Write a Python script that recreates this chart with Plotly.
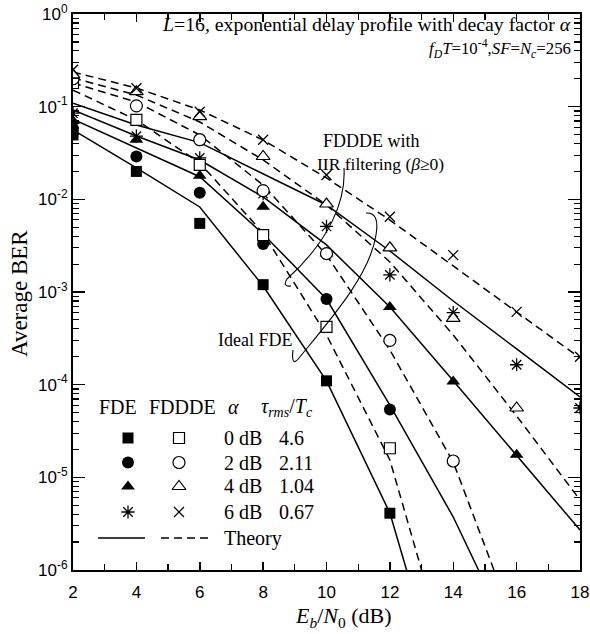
import plotly.graph_objects as go

# ---------------- data ----------------
ebn0 = [2, 4, 6, 8, 10, 12, 14, 16, 18]

# simulation, ideal FDE (filled markers)
sim_fde_0 = [0.0495, 0.020, 0.0055, 0.0012, 1.1e-4, 4.1e-6]
sim_fde_2 = [0.058, 0.029, 0.0118, 0.0033, 8.4e-4, 5.4e-5]
sim_fde_4 = [0.070, 0.044, 0.018, 0.0083, 0.0026, 6.9e-4, 1.08e-4, 1.75e-5]
sim_fde_6 = [0.085, 0.048, 0.028, 0.0115, 0.0051, 0.00153, 6.0e-4, 1.64e-4, 5.6e-5]

# simulation, FDDDE with IIR filtering (open markers)
sim_fddde_0 = [0.18, 0.072, 0.0235, 0.0041, 4.2e-4, 2.06e-5]
sim_fddde_2 = [0.20, 0.102, 0.044, 0.0124, 0.0026, 3.0e-4, 1.5e-5]
sim_fddde_4 = [0.22, 0.145, 0.078, 0.029, 0.0089, 0.0030, 5.2e-4, 5.6e-5]
sim_fddde_6 = [0.25, 0.158, 0.088, 0.044, 0.0183, 0.0065, 0.0025, 6.1e-4, 2.0e-4]

# theory, ideal FDE (solid)
th_fde_0 = [0.0560, 0.0218, 0.00827, 0.00116, 1.10e-4, 4.12e-6, 1.9e-8]
th_fde_2 = [0.0731, 0.0358, 0.01755, 0.00423, 8.4e-4, 6.0e-5, 3.73e-6, 1.37e-7]
th_fde_4 = [0.0921, 0.0483, 0.02658, 0.0106, 0.00322, 6.89e-4, 1.10e-4, 1.74e-5, 2.70e-6]
th_fde_6 = [0.1087, 0.0634, 0.0409, 0.01877, 0.00869, 0.00277, 8.0e-4, 2.43e-4, 7.36e-5]

# theory, FDDDE (dashed)
th_fddde_0 = [0.151, 0.0718, 0.0247, 0.00433, 3.44e-4, 1.54e-5, 6.5e-8]
th_fddde_2 = [0.180, 0.1123, 0.0495, 0.01428, 0.00251, 2.37e-4, 1.46e-5, 2.25e-7]
th_fddde_4 = [0.204, 0.1336, 0.0684, 0.0266, 0.00869, 0.00211, 3.44e-4, 4.59e-5, 5.70e-6]
th_fddde_6 = [0.2366, 0.159, 0.0921, 0.0437, 0.0170, 0.00598, 0.00191, 6.09e-4, 1.94e-4]

alpha_labels = ["0 dB", "2 dB", "4 dB", "6 dB"]
trms_labels = ["4.6", "2.11", "1.04", "0.67"]

x_ticks = [2, 4, 6, 8, 10, 12, 14, 16, 18]
y_ticks = [1e-6, 1e-5, 1e-4, 1e-3, 1e-2, 1e-1, 1]
y_ticktext = ["10<sup>-6</sup>", "10<sup>-5</sup>", "10<sup>-4</sup>", "10<sup>-3</sup>",
              "10<sup>-2</sup>", "10<sup>-1</sup>", "10<sup>0</sup>"]

# ---------------- geometry (screen pixels; body margin removed in post_script) ----------------
W, H = 590, 634
X0, X1, Y0, Y1 = 73, 580, 14, 570          # plot area
L, T, R, B = X0, Y0, W - X1, H - Y1
PW, PH = X1 - X0, Y1 - Y0

def fx(px):
    return (px - X0) / PW

def fy(py):
    return (Y1 - py) / PH

SERIF = "Liberation Serif, Times New Roman, serif"
SANS = "Liberation Sans, Arial, sans-serif"

fig = go.Figure()

solid = dict(color="black", width=1.5)
dashed = dict(color="black", width=1.5, dash="8px,5px")

for vals in [th_fde_0, th_fde_2, th_fde_4, th_fde_6]:
    fig.add_trace(go.Scatter(x=ebn0[:len(vals)], y=vals, mode="lines", line=solid,
                             showlegend=False, hoverinfo="skip"))
for vals in [th_fddde_0, th_fddde_2, th_fddde_4, th_fddde_6]:
    fig.add_trace(go.Scatter(x=ebn0[:len(vals)], y=vals, mode="lines", line=dashed,
                             showlegend=False, hoverinfo="skip"))

filled_styles = [
    dict(symbol="square", size=11, color="black"),
    dict(symbol="circle", size=12, color="black"),
    dict(symbol="triangle-up", size=12, color="black"),
    dict(symbol="asterisk-open", size=11, color="black", line=dict(color="black", width=1.3)),
]
open_styles = [
    dict(symbol="square", size=11, color="white", line=dict(color="black", width=1.2)),
    dict(symbol="circle", size=12, color="white", line=dict(color="black", width=1.2)),
    dict(symbol="triangle-up", size=12, color="white", line=dict(color="black", width=1.2)),
    dict(symbol="x-thin-open", size=10, color="black", line=dict(color="black", width=1.3)),
]

for vals, st in zip([sim_fde_0, sim_fde_2, sim_fde_4, sim_fde_6], filled_styles):
    fig.add_trace(go.Scatter(x=ebn0[:len(vals)], y=vals, mode="markers", marker=st,
                             showlegend=False))
for vals, st in zip([sim_fddde_0, sim_fddde_2, sim_fddde_4, sim_fddde_6], open_styles):
    fig.add_trace(go.Scatter(x=ebn0[:len(vals)], y=vals, mode="markers", marker=st,
                             showlegend=False))

# ---------------- custom legend (overlay axes in plot fractions) ----------------
row_py = [438, 462.5, 486.5, 512]
col_fde, col_fddde = 128, 179
for i in range(4):
    fig.add_trace(go.Scatter(x=[fx(col_fde)], y=[fy(row_py[i])], xaxis="x2", yaxis="y2",
                             mode="markers", marker=filled_styles[i], showlegend=False,
                             cliponaxis=False))
    fig.add_trace(go.Scatter(x=[fx(col_fddde)], y=[fy(row_py[i])], xaxis="x2", yaxis="y2",
                             mode="markers", marker=open_styles[i], showlegend=False,
                             cliponaxis=False))
theory_py = 538
fig.add_trace(go.Scatter(x=[fx(98), fx(145)], y=[fy(theory_py)] * 2, xaxis="x2", yaxis="y2",
                         mode="lines", line=solid, showlegend=False))
fig.add_trace(go.Scatter(x=[fx(161), fx(208)], y=[fy(theory_py)] * 2, xaxis="x2", yaxis="y2",
                         mode="lines", line=dashed, showlegend=False))

annotations = []

def txt(px, py, text, size=17, xanchor="left", font=SERIF, angle=0):
    annotations.append(dict(x=fx(px), y=fy(py), xref="paper", yref="paper", text=text,
                            showarrow=False, xanchor=xanchor, yanchor="middle",
                            textangle=angle,
                            font=dict(family=font, size=size, color="black")))

# legend header & rows
txt(97, 407, "FDE", 20)
txt(147, 407, "FDDDE", 20)
txt(226, 407, "<i>α</i>", 20)
txt(259, 407, "<i>τ</i><sub><i>rms</i></sub>/<i>T</i><sub><i>c</i></sub>", 20)
for i in range(4):
    txt(222, row_py[i], alpha_labels[i], 20)
    txt(277, row_py[i], trms_labels[i], 20)
txt(222, theory_py, "Theory", 20)

# top-right notes
txt(573, 24, "<i>L</i>=16, exponential delay profile with decay factor <i>α</i>", 19.8,
    xanchor="right")
txt(573, 49, "<i>f</i><sub><i>D</i></sub><i>T</i>=10<sup>-4</sup>,<i>SF</i>=<i>N</i><sub><i>c</i></sub>=256",
    16.8, xanchor="right")

# curve labels
txt(371, 141, "FDDDE with", 18, xanchor="center")
txt(380, 164, "IIR filtering (<i>β</i>≥0)", 17.5, xanchor="center")
txt(255, 340, "Ideal FDE", 18, xanchor="center")

# axis titles
txt(343, 617, "<i>E</i><sub><i>b</i></sub>/<i>N</i><sub>0</sub> (dB)", 22, xanchor="center")
txt(19, 294, "Average BER", 23, xanchor="center", angle=-90)

# hand-drawn pointer curves (plot-fraction coordinates on overlay axes)
def pt(px, py):
    return f"{fx(px):.4f},{fy(py):.4f}"

path1 = ("M " + pt(344, 168) + " C " + pt(346, 200) + " " + pt(330, 240) + " " + pt(287, 279)
         + " Q " + pt(282, 287) + " " + pt(291, 286))
path2 = ("M " + pt(366, 213) + " Q " + pt(380, 212) + " " + pt(376, 235)
         + " C " + pt(370, 275) + " " + pt(330, 320) + " " + pt(299, 358)
         + " Q " + pt(291, 368) + " " + pt(293, 350))
shapes = [
    dict(type="path", xref="x2", yref="y2", path=path1, line=dict(color="black", width=1.1)),
    dict(type="path", xref="x2", yref="y2", path=path2, line=dict(color="black", width=1.1)),
]

fig.update_layout(
    width=W, height=H,
    margin=dict(l=L, r=R, t=T, b=B, pad=0, autoexpand=False),
    paper_bgcolor="white", plot_bgcolor="white",
    showlegend=False,
    annotations=annotations,
    shapes=shapes,
    xaxis=dict(
        range=[2, 18], tickvals=x_ticks, ticks="inside", ticklen=8, tickwidth=1.5,
        tickcolor="black", showline=True, linecolor="black", linewidth=2, mirror="ticks",
        showgrid=False, zeroline=False, ticklabeloverflow="allow", automargin=False,
        ticklabelstandoff=6,
        tickfont=dict(family=SANS, size=17, color="black"),
        minor=dict(tickvals=[3, 5, 7, 9, 11, 13, 15, 17], ticks="inside", ticklen=6,
                   tickwidth=1.3, tickcolor="black", showgrid=False),
    ),
    yaxis=dict(
        type="log", range=[-6, 0], tickvals=y_ticks, ticktext=y_ticktext, ticks="inside",
        ticklen=12, tickwidth=1.5, tickcolor="black", showline=True, linecolor="black",
        linewidth=2, mirror="ticks", showgrid=False, zeroline=False,
        ticklabeloverflow="allow", automargin=False,
        tickfont=dict(family=SANS, size=17, color="black"),
        minor=dict(tickvals=[m * 10.0 ** e for e in range(-6, 0) for m in range(2, 10)],
                   ticks="inside", ticklen=6, tickwidth=1.2, tickcolor="black", showgrid=False),
    ),
    xaxis2=dict(overlaying="x", range=[0, 1], visible=False, fixedrange=True),
    yaxis2=dict(overlaying="y", range=[0, 1], visible=False, fixedrange=True),
)

fig.write_html(
    "out.html",
    config={"displayModeBar": False, "staticPlot": True},
    post_script=("document.body.style.margin='0';document.body.style.overflow='hidden';"
                 "document.documentElement.style.overflow='hidden';"),
)
